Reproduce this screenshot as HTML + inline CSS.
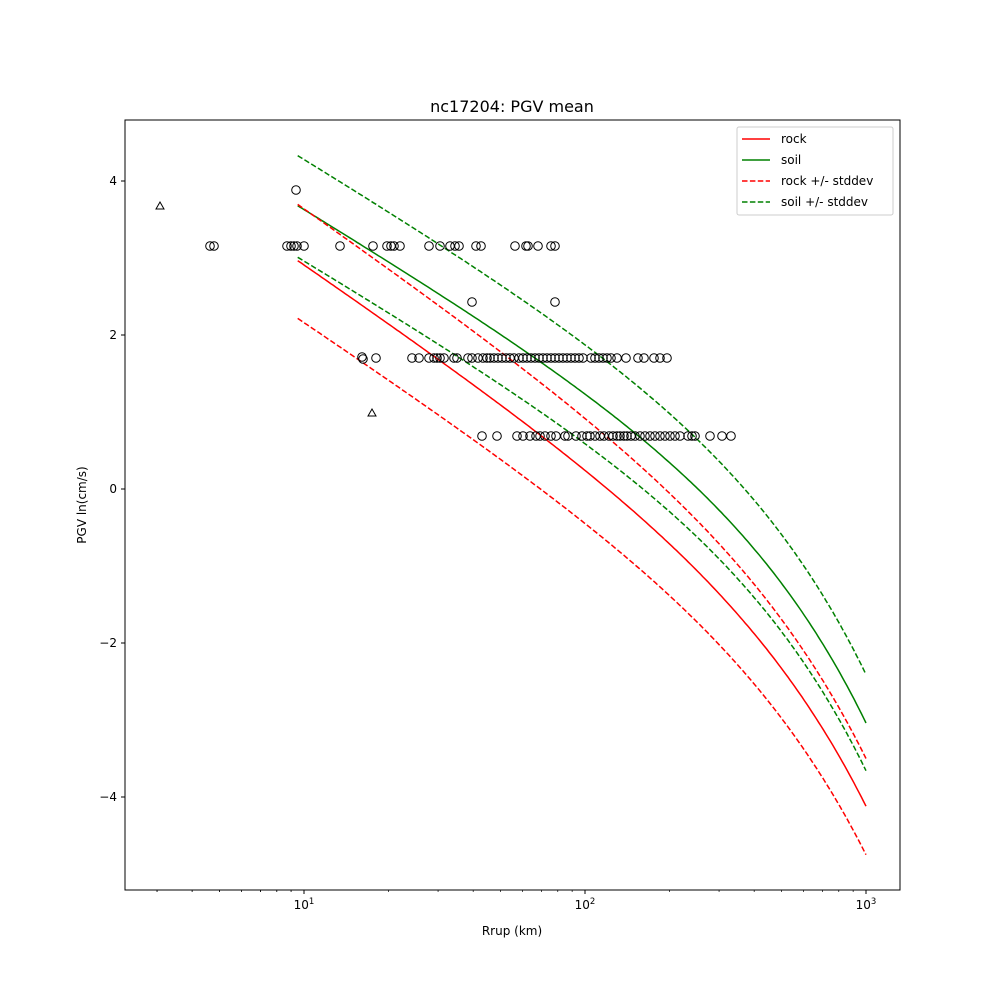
<!DOCTYPE html>
<html><head><meta charset="utf-8"><style>body{margin:0;background:#fff}svg{display:block}text{font-family:"DejaVu Sans","Liberation Sans",sans-serif;fill:#000}</style></head>
<body>
<svg id="s" width="1000" height="1000" xmlns="http://www.w3.org/2000/svg"></svg>
<script>
const s=document.getElementById('s');
const X=r=>304+281*Math.log10(r/10), Y=v=>489-77*v;
let h='';
h+='<text x="512" y="112" font-size="16" text-anchor="middle">nc17204: PGV mean</text>';
function rock(r){return 5.41-1.077*Math.log(r)-0.00209*r;}
function t(r){return (Math.log(r)-2.25)/4.66;}
function soil(r){return 5.841-0.9505*Math.log(r)-0.002314*r;}
function path(f,col,dash){let d='';for(let i=0;i<=240;i++){const r=9.5*Math.pow(1000/9.5,i/240);d+=(i?'L':'M')+X(r).toFixed(1)+','+Y(f(r)).toFixed(1);}
h+=`<path d="${d}" fill="none" stroke="${col}" stroke-width="1.5" ${dash?'stroke-dasharray="5.5,2.4"':''}/>`;}
h+='<clipPath id="c"><rect x="125" y="120" width="775" height="770"/></clipPath><g clip-path="url(#c)">';
path(rock,'#f00');path(soil,'#008000');
path(r=>rock(r)+0.73-0.11*t(r),'#f00',1);path(r=>rock(r)-0.75+0.12*t(r),'#f00',1);
path(r=>soil(r)+0.65-0.02*t(r),'#008000',1);path(r=>soil(r)-0.67+0.05*t(r),'#008000',1);
const rows={246:[210,214,287,291,294,297,304,340,373,387,391,394,400,429,440,450,455,459,476,481,515,526,528,538,551,555],190:[296],302:[472,555],
358:[376,412,419,429,434,437,440,444,454,457,468,472,478,483,487,490,494,498,502,506,510,514,519,523,527,531,535,539,543,547,551,555,559,563,567,571,575,579,583,591,595,599,603,607,611,617,626,638,644,654,660,667],
436:[482,497,517,523,530,536,540,545,551,556,565,568,576,582,587,590,595,600,604,609,613,617,620,624,627,631,635,640,645,650,655,660,665,670,675,680,688,692,695,710,722,731]};
for(const y in rows)for(const x of rows[y])h+=`<circle cx="${x}" cy="${y}" r="4.3" fill="none" stroke="#000"/>`;
h+='<circle cx="362" cy="357" r="4.3" fill="none" stroke="#000"/><circle cx="363" cy="359" r="4.3" fill="none" stroke="#000"/>';
for(const [x,y] of [[160,206],[372,413]])h+=`<path d="M${x},${y-4}L${x+4},${y+3}L${x-4},${y+3}Z" fill="none" stroke="#000"/>`;
h+='</g><rect x="125" y="120" width="775" height="770" fill="none" stroke="#000" stroke-width="1"/>';
for(const [v,l] of [[4,'4'],[2,'2'],[0,'0'],[-2,'−2'],[-4,'−4']]){const y=Y(v);h+=`<line x1="121" x2="125" y1="${y}" y2="${y}" stroke="#000"/><text x="117" y="${y+4}" font-size="12" text-anchor="end">${l}</text>`;}
for(let e=0;e<3;e++)for(let k=1;k<10;k++){const r=Math.pow(10,e)*k;const x=X(r);if(x<125||x>900)continue;
 if(k==1){h+=`<line x1="${x}" x2="${x}" y1="890" y2="894" stroke="#000"/><text x="${x}" y="909" font-size="12" text-anchor="middle">10<tspan font-size="8.5" dy="-5">${e}</tspan></text>`;}
 else h+=`<line x1="${x}" x2="${x}" y1="890" y2="892" stroke="#000" stroke-width="0.7"/>`;}
{const x=X(1000);h+=`<line x1="${x}" x2="${x}" y1="890" y2="894" stroke="#000"/><text x="${x}" y="909" font-size="12" text-anchor="middle">10<tspan font-size="8.5" dy="-5">3</tspan></text>`;}
for(const k of [3,4,5,6,7,8,9]){const x=X(k);h+=`<line x1="${x}" x2="${x}" y1="890" y2="892" stroke="#000" stroke-width="0.7"/>`;}
h+='<text x="512" y="935" font-size="12" text-anchor="middle">Rrup (km)</text>';
h+='<text transform="translate(86,505) rotate(-90)" font-size="12" text-anchor="middle">PGV ln(cm/s)</text>';
h+='<rect x="737" y="127" width="156" height="88" rx="2" fill="#fff" stroke="#ccc"/>';
[['rock','#f00',0],['soil','#008000',0],['rock +/- stddev','#f00',1],['soil +/- stddev','#008000',1]].forEach((e,i)=>{const y=139+i*21;
h+=`<line x1="742" x2="770" y1="${y}" y2="${y}" stroke="${e[1]}" stroke-width="1.5" ${e[2]?'stroke-dasharray="5.5,2.4"':''}/><text x="781" y="${y+4}" font-size="12">${e[0]}</text>`;});
s.innerHTML=h;
</script>
</body></html>
